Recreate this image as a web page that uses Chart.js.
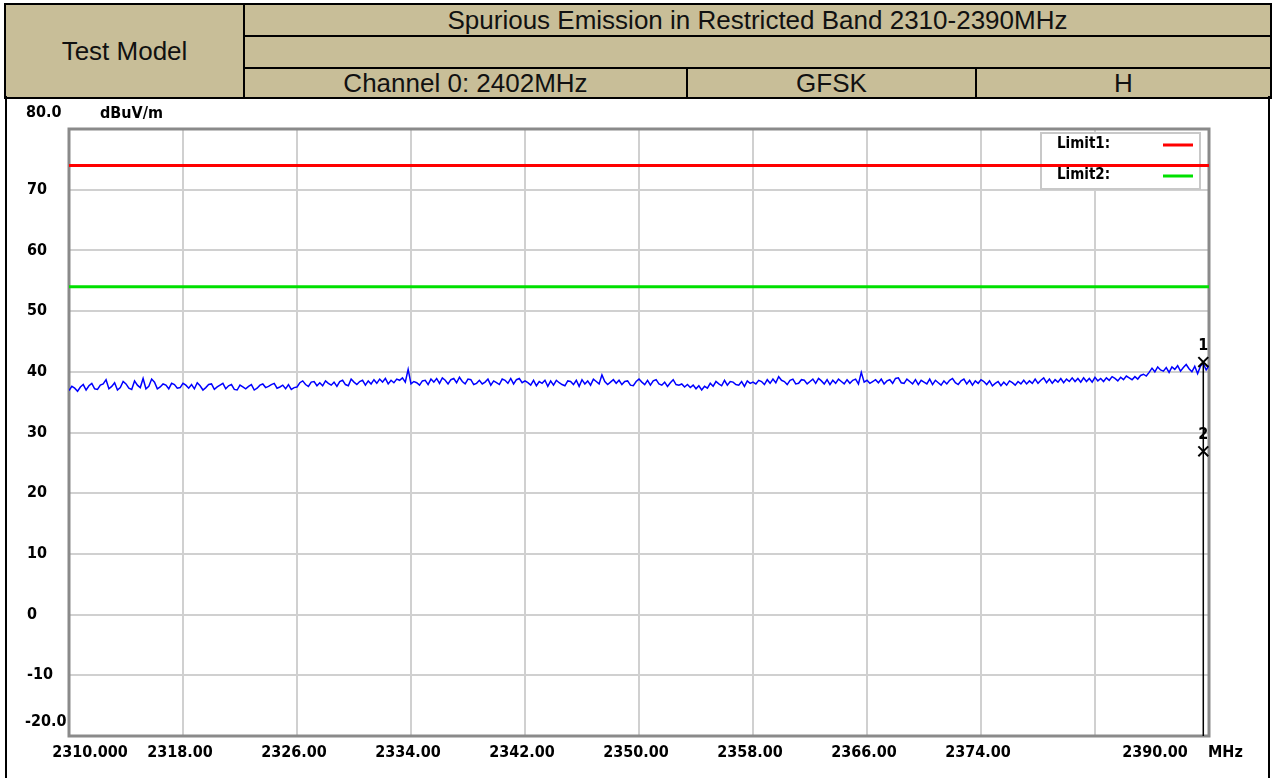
<!DOCTYPE html>
<html>
<head>
<meta charset="utf-8">
<title>Spurious Emission 2310-2390MHz</title>
<script src="https://cdn.jsdelivr.net/npm/chart.js@4.4.1/dist/chart.umd.min.js"></script>
<style>
  html, body { margin: 0; padding: 0; background: #fff; }
  body { width: 1273px; height: 778px; position: relative; overflow: hidden; font-family: 'Liberation Sans', Arial, sans-serif; }
  table.head { position: absolute; left: 4px; top: 3px; width: 1266px; border-collapse: collapse; table-layout: fixed; }
  table.head td { background: #c8be98; border: 2px solid #000; padding: 0; text-align: center; font-size: 26px; color: #111; line-height: 28px; }
  .frame { position: absolute; top: 96px; bottom: 0; width: 2px; background: #000; }
  #wrap { position: absolute; left: 0; top: 97px; width: 1273px; height: 681px; }
</style>
</head>
<body>
<table class="head">
  <colgroup>
    <col style="width:239px"><col style="width:443px"><col style="width:289px"><col style="width:295px">
  </colgroup>
  <tr style="height:32px"><td rowspan="3">Test Model</td><td colspan="3">Spurious Emission in Restricted Band 2310-2390MHz</td></tr>
  <tr style="height:32px"><td colspan="3"></td></tr>
  <tr style="height:30px"><td>Channel 0: 2402MHz</td><td>GFSK</td><td>H</td></tr>
</table>
<div class="frame" style="left:5px"></div>
<div class="frame" style="left:1268px"></div>
<div id="wrap"><canvas id="chart" width="1273" height="681"></canvas></div>

<script>
// sweep: 2310-2390 MHz, one reading every 0.2 MHz
const freqStart = 2310;
const freqStep = 0.2;

// measured level, dBuV/m, in 8 MHz blocks
const trace2310 = [36.9, 37.6, 37.3, 36.8, 37.5, 37.9, 37.0, 37.7, 38.1, 37.2,
  37.1, 37.8, 38.0, 38.7, 37.2, 37.6, 38.2, 37.0, 37.4, 38.4,
  38.0, 37.3, 37.1, 38.5, 37.8, 37.4, 38.9, 37.2, 37.6, 38.8,
  38.3, 37.2, 37.5, 38.0, 37.8, 37.2, 38.1, 37.9, 37.3, 37.4];
const trace2318 = [38.1, 37.8, 37.3, 37.9, 37.2, 38.2, 37.7, 37.0, 37.4, 37.9,
  38.0, 37.1, 37.5, 37.8, 38.1, 37.2, 37.7, 37.9, 37.1, 37.0,
  37.8, 37.5, 37.2, 37.6, 37.9, 37.0, 37.3, 37.8, 38.0, 37.4,
  37.6, 37.9, 38.1, 37.3, 37.5, 37.8, 37.2, 37.9, 37.1, 37.4];
const trace2326 = [37.5, 38.2, 38.5, 37.9, 37.6, 38.3, 38.4, 37.7, 38.2, 37.7,
  38.5, 38.1, 37.8, 38.3, 37.6, 38.4, 38.6, 37.9, 37.7, 38.8,
  38.3, 37.9, 38.4, 38.6, 37.8, 38.5, 38.0, 38.7, 38.1, 38.8,
  38.3, 38.9, 38.0, 38.6, 38.2, 38.8, 38.6, 39.0, 38.3, 40.4];
const trace2334 = [38.0, 38.4, 38.2, 37.8, 38.5, 38.6, 37.9, 38.8, 38.3, 38.9,
  38.1, 39.0, 38.6, 38.0, 38.7, 38.9, 38.2, 39.1, 38.4, 38.0,
  38.8, 38.7, 37.9, 38.1, 38.6, 38.0, 38.3, 38.8, 37.8, 38.5,
  38.2, 37.9, 38.8, 38.6, 38.1, 38.9, 38.0, 38.7, 38.9, 38.2];
const trace2342 = [38.5, 38.2, 37.8, 38.6, 37.7, 38.4, 38.1, 38.6, 37.6, 38.5,
  37.8, 38.6, 38.2, 37.9, 37.7, 38.5, 38.4, 37.9, 38.6, 37.6,
  38.7, 38.0, 38.5, 37.8, 38.8, 38.4, 38.0, 39.5, 38.4, 37.9,
  38.3, 38.7, 38.1, 38.6, 37.9, 38.4, 38.5, 37.8, 37.7, 38.4];
const trace2350 = [38.8, 38.3, 37.9, 38.6, 37.8, 38.5, 38.7, 38.0, 37.8, 38.3,
  37.6, 38.2, 38.7, 37.9, 37.8, 38.0, 37.5, 37.9, 37.4, 37.8,
  37.2, 37.7, 37.0, 37.6, 37.3, 38.1, 37.6, 38.4, 38.0, 37.7,
  38.6, 37.8, 38.4, 38.3, 37.9, 37.8, 38.4, 37.6, 38.5, 38.1];
const trace2358 = [38.3, 38.0, 38.6, 38.4, 37.9, 38.7, 38.1, 38.8, 38.2, 39.2,
  38.6, 38.4, 37.9, 38.6, 38.8, 38.0, 38.1, 38.7, 38.6, 38.0,
  38.4, 38.8, 38.1, 38.9, 38.5, 38.0, 38.7, 37.9, 38.6, 38.1,
  38.8, 38.4, 38.0, 38.7, 38.1, 38.6, 38.8, 38.0, 39.9, 38.3];
const trace2366 = [38.6, 38.1, 38.4, 38.7, 38.2, 38.8, 38.0, 38.5, 38.7, 38.1,
  38.9, 39.0, 38.2, 38.1, 38.8, 38.4, 38.0, 38.7, 37.9, 38.6,
  38.3, 38.0, 38.8, 37.9, 38.6, 38.2, 37.8, 38.5, 38.0, 38.6,
  38.9, 38.2, 37.9, 38.5, 38.8, 38.0, 38.6, 37.8, 38.5, 38.1];
const trace2374 = [38.7, 38.4, 37.9, 38.5, 37.7, 38.1, 38.4, 37.7, 38.3, 37.8,
  38.5, 38.2, 37.8, 38.4, 38.0, 38.6, 38.0, 38.5, 38.1, 38.8,
  38.1, 38.6, 39.0, 38.2, 38.8, 38.1, 38.7, 38.3, 38.9, 38.2,
  38.8, 38.4, 39.0, 38.4, 38.9, 38.3, 39.0, 38.4, 38.9, 38.3];
const trace2382 = [39.1, 38.5, 38.9, 38.4, 39.0, 38.6, 39.2, 38.9, 38.5, 39.1,
  38.7, 39.3, 39.0, 38.7, 39.2, 38.8, 39.4, 39.6, 39.3, 39.9,
  40.6, 40.0, 40.8, 40.3, 40.1, 40.7, 39.9, 40.8, 40.4, 41.0,
  40.1, 40.7, 41.2, 40.5, 40.0, 40.9, 39.7, 40.9, 41.4, 40.3,
  41.0];

const traceLevels = [].concat(trace2310, trace2318, trace2326, trace2334, trace2342,
  trace2350, trace2358, trace2366, trace2374, trace2382);

const limitNames = ['Limit1:', 'Limit2:'];
const limitLevels = [74, 54];
const limitColors = ['#ff0000', '#00e000'];

const markerFreq = 2389.6;
const markerLevels = [41.6, 26.9];
const markerNames = ['1', '2'];

const xTicks = [2310, 2318, 2326, 2334, 2342, 2350, 2358, 2366, 2374, 2382, 2390];
const xTickLabels = ['2310.000', '2318.00', '2326.00', '2334.00', '2342.00', '2350.00',
  '2358.00', '2366.00', '2374.00', '', '2390.00'];
const yTicks = [80, 70, 60, 50, 40, 30, 20, 10, 0, -10, -20];
const yTickLabels = ['80.0', '70', '60', '50', '40', '30', '20', '10', '0', '-10', '-20.0'];

const xMin = xTicks[0];
const xMax = xTicks[xTicks.length - 1];
const yMin = yTicks[yTicks.length - 1];
const yMax = yTicks[0];

const labelFamily = '"DejaVu Sans Condensed", "DejaVu Sans", sans-serif';
const labelFont = 'bold 16px ' + labelFamily;

// end labels and units sit off their gridlines, so draw them by hand
const axisText = {
  id: 'axisText',
  afterDraw(chart) {
    const { ctx, scales: { x, y } } = chart;
    ctx.save();
    ctx.font = labelFont;
    ctx.fillStyle = '#000';
    ctx.textBaseline = 'middle';
    ctx.textAlign = 'left';
    ctx.fillText(yTickLabels[0], 26, y.getPixelForValue(yMax) - 16);
    ctx.fillText('dBuV/m', 100, y.getPixelForValue(yMax) - 15);
    ctx.fillText(yTickLabels[yTickLabels.length - 1], 25, y.getPixelForValue(yMin) - 14);

    const labelY = x.bottom - x.height + 17;
    ctx.textAlign = 'center';
    ctx.fillText(xTickLabels[0], x.getPixelForValue(xMin) + 21, labelY);
    ctx.fillText(xTickLabels[xTickLabels.length - 1], x.getPixelForValue(xMax) - 54, labelY);
    ctx.textAlign = 'left';
    ctx.fillText('MHz', x.getPixelForValue(xMax) - 1, labelY);

    // marker numbers above each cross
    ctx.textAlign = 'center';
    markerLevels.forEach((v, i) => {
      ctx.fillText(markerNames[i], x.getPixelForValue(markerFreq), y.getPixelForValue(v) - 16);
    });
    ctx.restore();
  }
};

// frame and limit legend, under the traces
const plotFrame = {
  id: 'plotFrame',
  beforeDatasetsDraw(chart) {
    const { ctx, chartArea: a } = chart;
    ctx.save();
    const bx = a.right - 168, by = a.top + 4, bw = 159, bh = 56;
    ctx.fillStyle = '#fff';
    ctx.fillRect(bx, by, bw, bh);
    ctx.strokeStyle = '#c8c8c8';
    ctx.lineWidth = 2;
    ctx.strokeRect(bx, by, bw, bh);

    ctx.font = 'bold 15px ' + labelFamily;
    ctx.fillStyle = '#000';
    ctx.textBaseline = 'middle';
    ctx.textAlign = 'left';
    limitNames.forEach((name, i) => {
      const ly = by + 11 + i * 31;
      ctx.fillText(name, bx + 16, ly);
      ctx.strokeStyle = limitColors[i];
      ctx.lineWidth = 3;
      ctx.beginPath();
      ctx.moveTo(bx + 122, ly + 1);
      ctx.lineTo(bx + 152, ly + 1);
      ctx.stroke();
    });

    ctx.strokeStyle = '#8a8a8a';
    ctx.lineWidth = 3;
    ctx.strokeRect(a.left, a.top, a.right - a.left, a.bottom - a.top);
    ctx.restore();
  }
};

const traceData = traceLevels.map((v, i) => ({ x: freqStart + i * freqStep, y: v }));

const datasets = [
  {
    label: 'Trace',
    data: traceData,
    borderColor: '#0000ff',
    borderWidth: 1.5,
    pointRadius: 0,
    order: 3,
  },
  ...limitLevels.map((lv, i) => ({
    label: limitNames[i],
    data: [{ x: xMin, y: lv }, { x: xMax, y: lv }],
    borderColor: limitColors[i],
    borderWidth: 3,
    pointRadius: 0,
    order: 2,
  })),
  {
    label: 'Marker line',
    data: [{ x: markerFreq, y: markerLevels[0] }, { x: markerFreq, y: yMin }],
    borderColor: '#000',
    borderWidth: 1.5,
    pointRadius: 0,
    order: 1,
  },
  {
    label: 'Markers',
    data: markerLevels.map((v) => ({ x: markerFreq, y: v })),
    showLine: false,
    pointStyle: 'crossRot',
    pointRadius: 7,
    borderColor: '#000',
    borderWidth: 2,
    order: 0,
  },
];

new Chart(document.getElementById('chart'), {
  type: 'line',
  data: { datasets },
  plugins: [plotFrame, axisText],
  options: {
    responsive: false,
    animation: false,
    devicePixelRatio: 1,
    layout: {
      padding: { left: 27, top: 32, right: 64, bottom: 0 },
    },
    scales: {
      x: {
        type: 'linear',
        min: xMin,
        max: xMax,
        afterBuildTicks: (scale) => { scale.ticks = xTicks.map((v) => ({ value: v })); },
        afterFit: (scale) => { scale.height = 42; },
        grid: { color: '#d0d0d0', lineWidth: 2, drawTicks: false },
        border: { display: false },
        ticks: {
          padding: 7,
          labelOffset: -3,
          maxRotation: 0,
          autoSkip: false,
          color: '#000',
          font: { family: labelFamily, size: 16, weight: 'bold' },
          callback: (v) => {
            const i = xTicks.indexOf(v);
            return (i <= 0 || i === xTicks.length - 1) ? '' : xTickLabels[i];
          },
        },
      },
      y: {
        type: 'linear',
        min: yMin,
        max: yMax,
        afterBuildTicks: (scale) => { scale.ticks = yTicks.map((v) => ({ value: v })); },
        afterFit: (scale) => { scale.width = 42; },
        grid: { color: '#d0d0d0', lineWidth: 2, drawTicks: false },
        border: { display: false },
        ticks: {
          crossAlign: 'far',
          autoSkip: false,
          color: '#000',
          font: { family: labelFamily, size: 16, weight: 'bold' },
          callback: (v) => {
            const i = yTicks.indexOf(v);
            return (i <= 0 || i === yTicks.length - 1) ? '' : yTickLabels[i];
          },
        },
      },
    },
    plugins: {
      legend: { display: false },
      tooltip: { enabled: false },
    },
  },
});
</script>
</body>
</html>
